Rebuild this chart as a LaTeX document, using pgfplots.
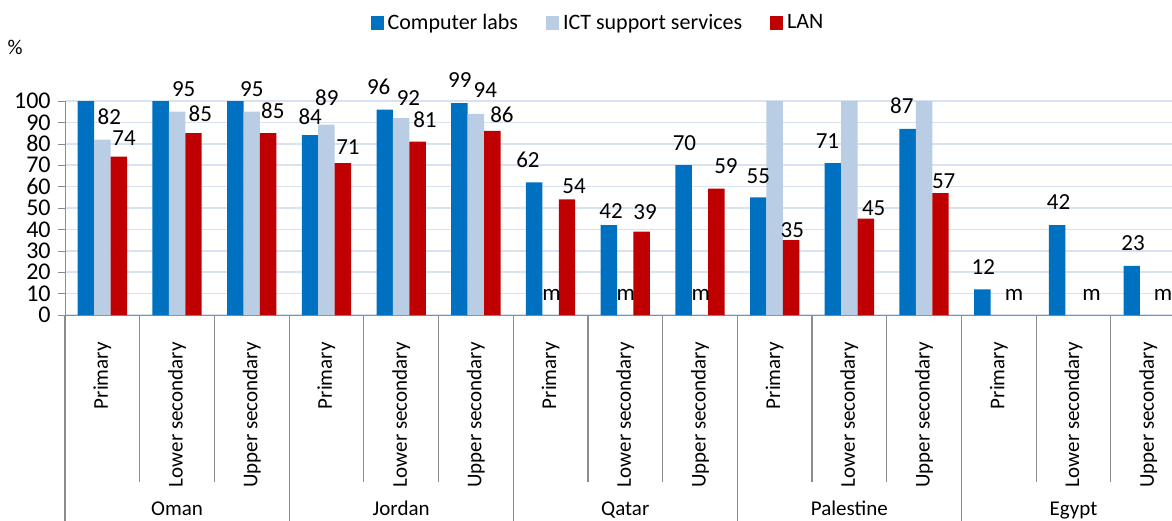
\documentclass[border=0pt]{standalone}
\usepackage{pgfplots}
\pgfplotsset{compat=1.18}
\usepackage{pgfplotstable}
\usepackage{fontspec}
\setmainfont{Carlito}
\definecolor{cl}{HTML}{0070C0}
\definecolor{ict}{HTML}{B9CDE5}
\definecolor{lan}{HTML}{C00000}
\definecolor{gridc}{HTML}{D9E2F1}
\definecolor{axc}{HTML}{8C8C8C}
\newcommand{\fs}{\fontsize{10.5}{12}\selectfont}
\newcommand{\fl}{\fontsize{11.5}{13}\selectfont}
\newcommand{\ft}{\fontsize{12}{14}\selectfont}
\newcommand{\fg}{\fontsize{11}{13}\selectfont}
\pgfplotstableread{
x y label
0.093 89.1 82
0.29 79.4 74
1.089 102.3 95
1.311 90.2 85
2.0 102.3 95
2.283 91.9 85
2.782 88.8 84
3.005 97.7 89
3.288 74.8 71
3.699 103.1 96
4.098 97.7 92
4.319 87.7 81
4.785 106.4 99
5.127 101.7 94
5.349 89.9 86
5.697 68.8 62
6.013 7 m
6.314 56.9 54
6.811 45.2 42
7.006 7 m
7.266 44.4 39
7.792 77.1 70
8.011 7 m
8.348 65.9 59
8.782 61.5 55
9.236 36.3 35
9.707 77.9 71
10.326 46.7 45
10.702 94.2 87
11.263 59.2 57
11.794 18.7 12
12.205 7 m
12.8 49.1 42
13.242 7 m
13.797 30 23
14.199 7 m
}\labeltable
\begin{document}
\begin{tikzpicture}
\begin{axis}[
  scale only axis, width=553.5pt, height=107pt,
  xmin=-0.5, xmax=14.319, ymin=0, ymax=100,
  axis x line*=bottom, axis y line*=left,
  axis line style={axc,-},
  ytick={0,10,...,100},
  ymajorgrids, grid style={gridc, line width=0.8pt},
  y tick style={axc}, tick align=outside, major tick length=3.5pt,
  yticklabel style={font=\ft, inner sep=1pt, xshift=-2.5pt},
  /pgf/number format/assume math mode=true,
  xtick={0,...,14},
  xticklabels={Primary,Lower secondary,Upper secondary,Primary,Lower secondary,Upper secondary,Primary,Lower secondary,Upper secondary,Primary,Lower secondary,Upper secondary,Primary,Lower secondary,Upper secondary},
  xticklabel style={rotate=90, anchor=east, font=\fs, inner sep=0pt},
  xticklabel shift=10pt,
  x tick style={draw=none},
  clip=false,
  legend columns=3,
  legend style={at={(0.4824,1.3645)}, anchor=center, draw=none, font=\fg,
    /tikz/every even column/.append style={column sep=12pt}},
  legend image code/.code={\fill[#1] (0pt,-3.25pt) rectangle (6.5pt,3.25pt);},
]
\addplot[ybar, bar width=0.22, bar shift=-0.22, fill=cl, draw=none] coordinates {
(0,100) (1,100) (2,100) (3,84) (4,96) (5,99) (6,62) (7,42) (8,70) (9,55) (10,71) (11,87) (12,12) (13,42) (14,23)};
\addlegendentry{Computer labs}
\addplot[ybar, bar width=0.22, bar shift=0, fill=ict, draw=none] coordinates {
(0,82) (1,95) (2,95) (3,89) (4,92) (5,94) (9,100) (10,100) (11,100)};
\addlegendentry{ICT support services}
\addplot[ybar, bar width=0.22, bar shift=0.22, fill=lan, draw=none] coordinates {
(0,74) (1,85) (2,85) (3,71) (4,81) (5,86) (6,54) (7,39) (8,59) (9,35) (10,45) (11,57)};
\addlegendentry{LAN}
\addplot[draw=none, forget plot, nodes near coords, point meta=explicit symbolic,
  every node near coord/.append style={anchor=base, inner sep=0pt, font=\fl, text=black}]
  table[x=x, y=y, meta=label] {\labeltable};
% category separators
\pgfplotsinvokeforeach{0.5,1.5,3.5,4.5,6.5,7.5,9.5,10.5,12.5,13.5}{
  \draw[axc, line width=0.6pt] (axis cs:#1,0) -- (axis cs:#1,-78);
}
\pgfplotsinvokeforeach{-0.5,2.5,5.5,8.5,11.5}{
  \draw[axc, line width=0.6pt] (axis cs:#1,0) -- (axis cs:#1,-105);
}
\node[anchor=base, font=\fs] at (axis cs:1,-93.5) {Oman};
\node[anchor=base, font=\fs] at (axis cs:4,-93.5) {Jordan};
\node[anchor=base, font=\fs] at (axis cs:7,-93.5) {Qatar};
\node[anchor=base, font=\fs] at (axis cs:10,-93.5) {Palestine};
\node[anchor=base, font=\fs] at (axis cs:13,-93.5) {Egypt};
\node[font=\fs] at (axis cs:-1.169,125.2) {\%};
\end{axis}
\pgfresetboundingbox
\path[use as bounding box] ([shift={(-32.5pt,-102.5pt)}]current axis.south west) rectangle ([shift={(553.5pt,157.5pt)}]current axis.south west);
\end{tikzpicture}
\end{document}
